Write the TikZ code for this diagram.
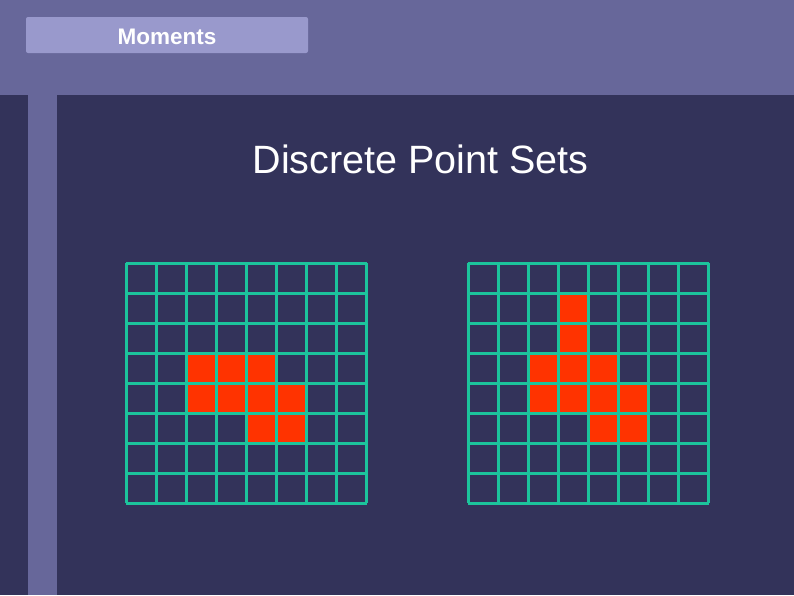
\documentclass[tikz,border=0pt]{standalone}
\usepackage{fontspec}
\setmainfont{Liberation Sans}
\definecolor{hdr}{HTML}{67679A}
\definecolor{hbox}{HTML}{9999CC}
\definecolor{body}{HTML}{33335A}
\definecolor{gridc}{HTML}{1CC49C}
\definecolor{cellc}{HTML}{FF3300}
\begin{document}
\begin{tikzpicture}[x=1pt,y=-1pt,
  gridline/.style={draw=gridc,line width=3pt},
  cellfill/.style={fill=cellc}]
\useasboundingbox (0,0) rectangle (794,595);
\fill[body] (0,0) rectangle (794,595);
\fill[hdr] (0,0) rectangle (794,95);
\fill[hdr] (28,95) rectangle (57,595);
\fill[hbox,rounded corners=2pt] (26,17) rectangle (308,53);
\node[text=white,font=\bfseries\fontsize{22.5}{26}\selectfont,anchor=base] (tab) at (167,44) {Moments};
\node[text=white,font=\fontsize{39.5}{46}\selectfont,anchor=base] (title) at (420.5,173.5) {Discrete Point Sets};
% left grid
\begin{scope}[shift={(126,263)}]
  \foreach \c/\r in {2/3,3/3,4/3,2/4,3/4,4/4,5/4,4/5,5/5}
    \fill[cellfill] (\c*30.1,\r*30) rectangle ++(30.1,30);
  \foreach \i in {0,...,8} {
    \draw[gridline] (\i*30.1,0) -- (\i*30.1,240);
    \draw[gridline] (0,\i*30) -- (240.8,\i*30);
  }
\end{scope}
% right grid
\begin{scope}[shift={(468,263)}]
  \foreach \c/\r in {3/1,3/2,2/3,3/3,4/3,2/4,3/4,4/4,5/4,4/5,5/5}
    \fill[cellfill] (\c*30.1,\r*30) rectangle ++(30.1,30);
  \foreach \i in {0,...,8} {
    \draw[gridline] (\i*30.1,0) -- (\i*30.1,240);
    \draw[gridline] (0,\i*30) -- (240.8,\i*30);
  }
\end{scope}
\end{tikzpicture}
\end{document}
